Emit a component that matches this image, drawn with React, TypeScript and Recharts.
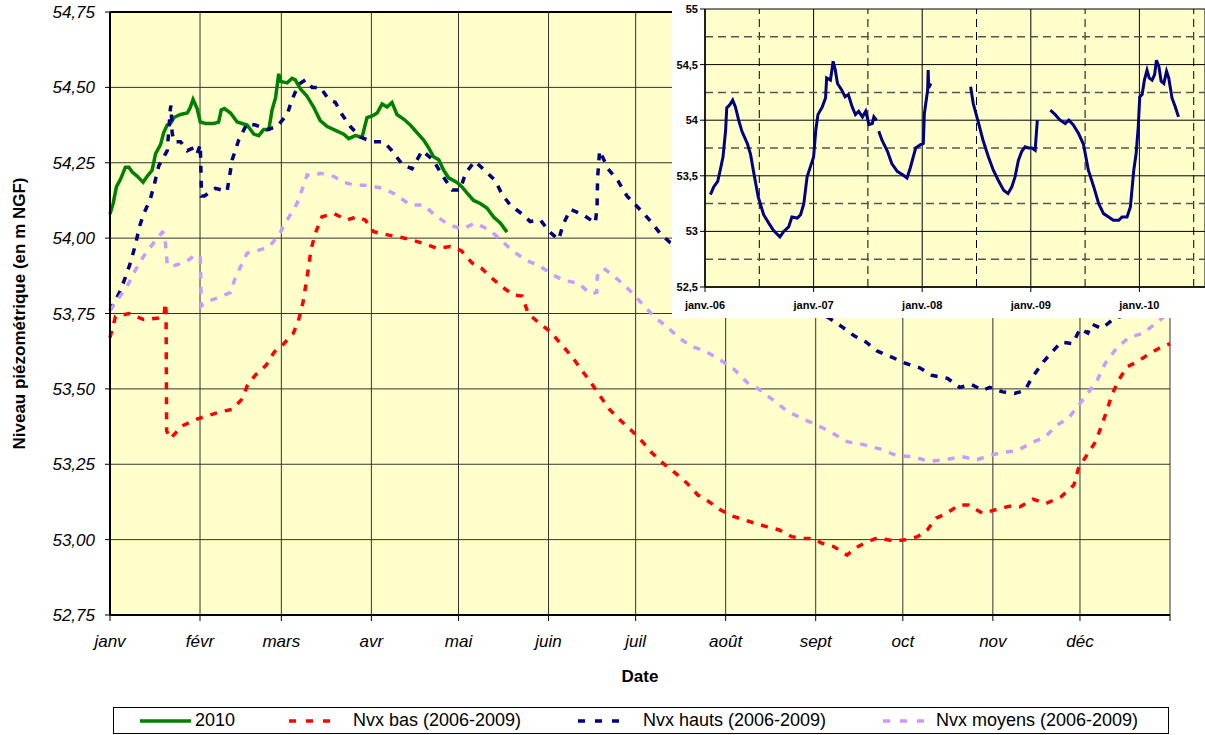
import React from "react";
import {
  LineChart,
  Line,
  XAxis,
  YAxis,
  CartesianGrid,
  Legend,
  ReferenceLine,
} from "recharts";

const FONT = '"Liberation Sans", Arial, sans-serif';

// axe principal : jour de l'année
const monthStarts = [0, 31, 59, 90, 120, 151, 181, 212, 243, 273, 304, 334, 365];
const monthNames = ["janv", "févr", "mars", "avr", "mai", "juin", "juil", "août", "sept", "oct", "nov", "déc", ""];
const levelTicks = [52.75, 53, 53.25, 53.5, 53.75, 54, 54.25, 54.5, 54.75];

// [jour, niveau]
const niveaux2010 = [
  [0, 54.08], [1.1, 54.115], [2.2, 54.17], [3.6, 54.195], [5.3, 54.235], [6.5, 54.235],
  [7.6, 54.22], [9.4, 54.205], [11.4, 54.185], [12.8, 54.205], [14.5, 54.225], [15.7, 54.28],
  [17.4, 54.31], [18.5, 54.35], [19.7, 54.375], [20.8, 54.38], [22, 54.4], [24.3, 54.41],
  [26.6, 54.415], [27.5, 54.43], [28.6, 54.46], [30, 54.43], [31.1, 54.385], [32.9, 54.38],
  [35.7, 54.38], [37.4, 54.385], [38.3, 54.425], [39.4, 54.43], [41.5, 54.415], [43.8, 54.385],
  [47.2, 54.375], [49.5, 54.345], [51.2, 54.34], [52.9, 54.36], [54.7, 54.36], [55.8, 54.425],
  [57, 54.465], [58.1, 54.545], [58.7, 54.52], [61, 54.515], [62.7, 54.53], [63.8, 54.525],
  [65.6, 54.495], [67.9, 54.47], [70.1, 54.435], [72.4, 54.39], [74.8, 54.37], [78.2, 54.355],
  [80.5, 54.345], [82.2, 54.33], [84.5, 54.34], [86.8, 54.335], [88.5, 54.4], [90.2, 54.405],
  [92, 54.415], [93.7, 54.445], [95.4, 54.435], [97.1, 54.45], [98.8, 54.41], [101.1, 54.395],
  [103.4, 54.375], [105.7, 54.35], [108, 54.325], [109.7, 54.3], [111.4, 54.27], [113.2, 54.26],
  [114.9, 54.225], [116.6, 54.2], [119.5, 54.185], [121.2, 54.17], [122.9, 54.15], [125.2, 54.125],
  [127.5, 54.115], [129.8, 54.1], [132.1, 54.07], [134.4, 54.05], [136.7, 54.02],
];

const nvxBas = [
  [0, 53.67], [1.9, 53.74], [6.5, 53.75], [11.6, 53.73], [16.8, 53.735], [18.6, 53.74],
  [19.0, 53.785], [19.3, 53.76], [19.5, 53.36], [20.8, 53.335], [24.8, 53.377], [30, 53.4],
  [34.3, 53.413], [38, 53.424], [42, 53.432], [45.2, 53.463], [47.4, 53.513], [50.1, 53.546],
  [53.8, 53.579], [56.6, 53.623], [59.8, 53.649], [63.1, 53.684], [64.8, 53.723], [66.4, 53.784],
  [67.9, 53.872], [69.2, 53.961], [70.7, 54.016], [73, 54.071], [77, 54.082], [81.6, 54.06],
  [85.1, 54.071], [87.9, 54.06], [90.8, 54.021], [96, 54.01], [99.4, 54.004], [103.2, 53.996],
  [107.8, 53.983], [112.6, 53.966], [117.2, 53.972], [121, 53.958], [124.7, 53.917], [127.9, 53.9],
  [131.3, 53.869], [135.2, 53.837], [139, 53.811], [141.9, 53.808], [144, 53.75], [147.9, 53.717],
  [151.4, 53.692], [155.1, 53.651], [158.8, 53.61], [162, 53.568], [165.5, 53.522], [168.8, 53.476],
  [172, 53.432], [175.9, 53.394], [179.9, 53.359], [183.5, 53.323], [186.4, 53.29], [190.2, 53.255],
  [194.5, 53.222], [198.5, 53.189], [202.4, 53.148], [205.9, 53.128], [210.3, 53.098], [214.9, 53.076],
  [222.2, 53.054], [226.1, 53.043], [230.5, 53.032], [234.7, 53.01], [238.6, 53.004], [241.9, 53.004],
  [245.2, 52.988], [249.2, 52.977], [253.8, 52.949], [257.1, 52.974], [260.1, 52.99], [264.7, 53.007],
  [266.9, 53.001], [270.5, 52.995], [274.9, 53.001], [278.1, 53.01], [281.4, 53.032], [284.5, 53.071],
  [288, 53.087], [292.4, 53.115], [295.5, 53.115], [300.5, 53.087], [305.2, 53.1], [309.8, 53.111],
  [313.4, 53.109], [317.9, 53.134], [322.3, 53.12], [327.5, 53.142], [331.9, 53.181], [333.5, 53.237],
  [336.4, 53.281], [339.4, 53.325], [341.1, 53.369], [343.1, 53.424], [345, 53.48], [347.3, 53.529],
  [350.3, 53.574], [353.2, 53.587], [357.2, 53.612], [361.1, 53.634], [365, 53.65],
];

const nvxHauts = [
  [0, 53.76], [3.3, 53.82], [5.3, 53.87], [7.1, 53.92], [8.8, 53.98], [10.2, 54.04],
  [11.6, 54.08], [13.9, 54.13], [15.3, 54.18], [16.8, 54.24], [19.7, 54.29], [20.8, 54.43],
  [21.0, 54.44], [21.4, 54.35], [22, 54.32], [24.3, 54.32], [26.6, 54.29], [28.8, 54.3],
  [30, 54.28], [31.1, 54.31], [31.5, 54.14], [32.5, 54.14], [36.3, 54.165], [40.3, 54.155],
  [42.1, 54.26], [44.3, 54.325], [47.2, 54.38], [50.1, 54.375], [54.1, 54.36], [57.5, 54.37],
  [61, 54.41], [62.7, 54.46], [65, 54.51], [67.3, 54.525], [69.6, 54.5], [72.4, 54.5],
  [75.3, 54.46], [77.6, 54.45], [79.9, 54.41], [82.8, 54.37], [86.2, 54.335], [90.2, 54.32],
  [94.2, 54.32], [97.1, 54.29], [100.6, 54.245], [104, 54.23], [107.5, 54.29], [111.2, 54.26],
  [114.3, 54.21], [117.8, 54.16], [120.6, 54.16], [122.4, 54.215], [125.6, 54.255], [129.6, 54.22],
  [132.7, 54.19], [135, 54.145], [137.8, 54.11], [141.9, 54.08], [144.7, 54.055], [148.2, 54.06],
  [151.4, 54.02], [154.5, 53.995], [156, 54.045], [158.5, 54.095], [162.5, 54.08], [167.1, 54.05],
  [167.7, 54.1], [167.9, 54.2], [168.6, 54.29], [171.5, 54.23], [174.9, 54.19], [178, 54.14],
  [182, 54.1], [185.8, 54.06], [189.5, 54.015], [192.9, 53.985], [200, 53.95], [210, 53.9],
  [220, 53.85], [230, 53.81], [240, 53.77], [247.6, 53.735], [252.2, 53.705], [256.4, 53.675],
  [260.4, 53.655], [264.3, 53.625], [269.2, 53.605], [273.9, 53.585], [278.8, 53.57], [283, 53.545],
  [288.4, 53.535], [292.6, 53.505], [296.6, 53.515], [300.5, 53.495], [302.9, 53.505], [307.4, 53.49],
  [311.5, 53.485], [315, 53.495], [317.7, 53.54], [321.4, 53.59], [324.2, 53.62], [327.5, 53.655],
  [331.5, 53.65], [334.1, 53.7], [336.7, 53.685], [338.1, 53.715], [341.4, 53.7], [346, 53.735],
  [352, 53.75], [358, 53.77], [365, 53.78],
];

const nvxMoyens = [
  [0, 53.76], [2.5, 53.795], [5.9, 53.84], [8.8, 53.895], [11.6, 53.94], [15.1, 53.985],
  [18, 54.02], [18.8, 54.015], [19.7, 53.915], [20.8, 53.905], [22.5, 53.91], [26, 53.92],
  [29.4, 53.945], [31.1, 53.935], [31.4, 53.775], [33.5, 53.79], [38, 53.805], [41.5, 53.82],
  [43.2, 53.87], [47.2, 53.95], [51.2, 53.96], [54.7, 53.97], [58.1, 54.01], [61, 54.06],
  [64.4, 54.115], [66.1, 54.16], [67.9, 54.21], [69.6, 54.205], [72.4, 54.215], [77, 54.205],
  [80.5, 54.185], [84.5, 54.175], [88.5, 54.175], [94.2, 54.165], [98.3, 54.145], [103.4, 54.11],
  [108, 54.11], [112, 54.075], [116.6, 54.045], [121.2, 54.03], [125.8, 54.05], [131, 54.025],
  [135, 53.99], [139, 53.955], [143.6, 53.925], [147.6, 53.91], [152.2, 53.88], [156.2, 53.86],
  [161.4, 53.85], [165.4, 53.815], [167.6, 53.82], [167.8, 53.875], [170, 53.9], [174.6, 53.865],
  [178.6, 53.83], [183, 53.785], [187.3, 53.74], [191.9, 53.705], [195.8, 53.67], [200.4, 53.64],
  [205, 53.625], [210.3, 53.595], [214.9, 53.565], [219.5, 53.52], [224.1, 53.495], [228.7, 53.46],
  [233.4, 53.425], [238.6, 53.4], [243.5, 53.38], [248.5, 53.355], [253.8, 53.325], [259.4, 53.315],
  [265.4, 53.3], [270.5, 53.28], [276.2, 53.275], [282.1, 53.26], [287.8, 53.265], [293.3, 53.275],
  [298.6, 53.265], [303.2, 53.28], [307.8, 53.29], [312.4, 53.295], [317, 53.32], [322, 53.34],
  [326, 53.38], [329.8, 53.4], [333.5, 53.445], [336.7, 53.485], [340, 53.53], [342.7, 53.585],
  [346.6, 53.635], [350.8, 53.67], [355.8, 53.685], [361.1, 53.725], [365, 53.755],
];

// encart : chronique 2006-2010, [année décimale, niveau] (null = lacune)
const insetYears = [2006, 2007, 2008, 2009, 2010];
const insetYearLabels = ["janv.-06", "janv.-07", "janv.-08", "janv.-09", "janv.-10"];
const insetMidYears = [2006.5, 2007.5, 2008.5, 2009.5, 2010.5];
const insetLevelTicks = [52.5, 53, 53.5, 54, 54.5, 55];
const insetQuarterLevels = [52.75, 53.25, 53.75, 54.25, 54.75];

const chronique = [
  [2006.05, 53.33], [2006.08, 53.4], [2006.117, 53.45], [2006.14, 53.55], [2006.166, 53.67],
  [2006.19, 53.91], [2006.2, 54.11], [2006.23, 54.14], [2006.255, 54.18], [2006.28, 54.12],
  [2006.31, 54.0], [2006.34, 53.9], [2006.39, 53.79], [2006.42, 53.69], [2006.45, 53.52],
  [2006.49, 53.31], [2006.54, 53.15], [2006.59, 53.07], [2006.63, 53.01], [2006.69, 52.95],
  [2006.725, 53.0], [2006.77, 53.04], [2006.8, 53.13], [2006.85, 53.12], [2006.88, 53.15],
  [2006.91, 53.25], [2006.94, 53.49], [2006.97, 53.58], [2007.0, 53.67], [2007.02, 53.91],
  [2007.04, 54.05], [2007.08, 54.12], [2007.11, 54.2], [2007.12, 54.38], [2007.155, 54.36],
  [2007.18, 54.53], [2007.2, 54.45], [2007.22, 54.33], [2007.26, 54.27], [2007.29, 54.21],
  [2007.32, 54.23], [2007.355, 54.12], [2007.385, 54.05], [2007.415, 54.08], [2007.45, 54.03],
  [2007.48, 54.08], [2007.51, 53.96], [2007.54, 53.97], [2007.555, 54.03], [2007.58, 54.0],
  [2007.59, null],
  [2007.6, 53.9], [2007.63, 53.82], [2007.68, 53.72], [2007.72, 53.61], [2007.77, 53.54],
  [2007.82, 53.51], [2007.86, 53.48], [2007.89, 53.57], [2007.94, 53.75], [2007.985, 53.78],
  [2008.01, 53.79], [2008.02, 54.06], [2008.05, 54.27], [2008.055, 54.45], [2008.06, 54.29],
  [2008.08, 54.33],
  [2008.2, null],
  [2008.446, 54.3], [2008.47, 54.15], [2008.52, 53.97], [2008.56, 53.82], [2008.61, 53.67],
  [2008.655, 53.55], [2008.7, 53.46], [2008.75, 53.37], [2008.79, 53.34], [2008.825, 53.4],
  [2008.855, 53.49], [2008.886, 53.64], [2008.917, 53.72], [2008.948, 53.76], [2008.978, 53.75],
  [2009.01, 53.75], [2009.04, 53.73], [2009.06, 54.0],
  [2009.1, null],
  [2009.18, 54.09], [2009.225, 54.05], [2009.27, 54.0], [2009.317, 53.97], [2009.35, 54.0],
  [2009.39, 53.96], [2009.44, 53.88], [2009.486, 53.78], [2009.53, 53.55], [2009.58, 53.4],
  [2009.625, 53.25], [2009.67, 53.16], [2009.717, 53.13], [2009.76, 53.1], [2009.81, 53.1],
  [2009.84, 53.13], [2009.886, 53.13], [2009.917, 53.22], [2009.948, 53.55], [2009.97, 53.7],
  [2009.99, 53.95], [2010.003, 54.21], [2010.025, 54.23], [2010.046, 54.36], [2010.07, 54.45],
  [2010.09, 54.38], [2010.117, 54.36], [2010.14, 54.41], [2010.157, 54.54], [2010.18, 54.48],
  [2010.2, 54.35], [2010.225, 54.33], [2010.25, 54.44], [2010.27, 54.38], [2010.3, 54.2],
  [2010.33, 54.12], [2010.36, 54.03],
];

const toRows = (pts) => pts.map(([d, v]) => ({ d, v }));

const series = [
  { name: "2010", color: "#008000", dash: undefined, data: niveaux2010 },
  { name: "Nvx bas (2006-2009)", color: "#FF0000", dash: "7 8", data: nvxBas },
  { name: "Nvx hauts (2006-2009)", color: "#000080", dash: "7 8", data: nvxHauts },
  { name: "Nvx moyens (2006-2009)", color: "#CC99FF", dash: "7 8", data: nvxMoyens },
];

// position horizontale des éléments de légende dans le cadre
const legendSlots = [
  { symbol: 26, text: 81 },
  { symbol: 175, text: 239 },
  { symbol: 464, text: 529 },
  { symbol: 769, text: 822 },
];

const MonthTick = ({ x, y, payload }) => (
  <text
    x={x}
    y={y}
    dy="0.71em"
    textAnchor="middle"
    fill="#000"
    fontSize={17}
    fontStyle="italic"
    fontFamily={FONT}
  >
    {monthNames[monthStarts.indexOf(payload.value)]}
  </text>
);

const LevelTick = ({ x, y, payload }) => (
  <text
    x={x}
    y={y}
    dy="0.355em"
    textAnchor="end"
    fill="#000"
    fontSize={17}
    fontStyle="italic"
    fontFamily={FONT}
  >
    {payload.value.toFixed(2).replace(".", ",")}
  </text>
);

const MainLegend = () => (
  <div
    style={{
      position: "relative",
      width: 1056,
      height: 27,
      border: "1px solid #000",
      boxSizing: "border-box",
      background: "#fff",
      fontFamily: FONT,
      fontSize: 18,
      color: "#000",
    }}
  >
    {series.map((s, i) => (
      <React.Fragment key={s.name}>
        <svg
          width={52}
          height={8}
          style={{ position: "absolute", left: legendSlots[i].symbol, top: 8.5 }}
        >
          {s.dash ? (
            <line x1={0} y1={4} x2={42} y2={4} stroke={s.color} strokeWidth={3.5} strokeDasharray="7 10" />
          ) : (
            <line x1={0} y1={4} x2={51} y2={4} stroke={s.color} strokeWidth={3.5} />
          )}
        </svg>
        <span
          style={{ position: "absolute", left: legendSlots[i].text, top: 2, lineHeight: "21px", whiteSpace: "nowrap" }}
        >
          {s.name}
        </span>
      </React.Fragment>
    ))}
  </div>
);

const InsetChart = () => (
  <div
    style={{
      position: "absolute",
      left: 672,
      top: 0,
      width: 533,
      height: 318,
      background: "#fff",
    }}
  >
    <LineChart width={533} height={318} margin={{ top: 9, right: 0, bottom: 0, left: 0 }}>
      <CartesianGrid fill="#FFFFCC" stroke="#000" strokeWidth={1} />
      <XAxis
        type="number"
        dataKey="d"
        domain={[2006, 2010.604]}
        ticks={insetYears}
        interval={0}
        height={31}
        tickSize={5}
        tickMargin={9}
        axisLine={{ stroke: "#000", strokeWidth: 1.5 }}
        tickLine={{ stroke: "#000" }}
        tick={{ fill: "#000", fontSize: 11, fontWeight: "bold", fontFamily: FONT }}
        tickFormatter={(v) => insetYearLabels[insetYears.indexOf(v)]}
        allowDataOverflow
      />
      <YAxis
        type="number"
        domain={[52.5, 55]}
        ticks={insetLevelTicks}
        interval={0}
        width={33}
        tickSize={5}
        tickMargin={2}
        axisLine={{ stroke: "#000", strokeWidth: 1.5 }}
        tickLine={{ stroke: "#000" }}
        tick={{ fill: "#000", fontSize: 11, fontWeight: "bold", fontFamily: FONT }}
        tickFormatter={(v) => String(v).replace(".", ",")}
        allowDataOverflow
      />
      {insetMidYears.map((x) => (
        <ReferenceLine key={"x" + x} x={x} stroke="#000" strokeWidth={1} strokeDasharray="8 5" />
      ))}
      {insetQuarterLevels.map((y) => (
        <ReferenceLine key={"y" + y} y={y} stroke="#555" strokeWidth={1.5} strokeDasharray="8 5" />
      ))}
      <Line
        data={toRows(chronique)}
        dataKey="v"
        type="linear"
        stroke="#000080"
        strokeWidth={3}
        dot={false}
        connectNulls={false}
        isAnimationActive={false}
      />
    </LineChart>
  </div>
);

export default function App() {
  return (
    <div
      style={{
        position: "absolute",
        left: 0,
        top: 0,
        width: 1205,
        height: 735,
        background: "#fff",
        fontFamily: FONT,
      }}
    >
      <LineChart width={1205} height={735} margin={{ top: 12, right: 35, bottom: 0, left: 0 }}>
        <CartesianGrid fill="#FFFFCC" stroke="#333" strokeWidth={1} />
        <XAxis
          type="number"
          dataKey="d"
          domain={[0, 365]}
          ticks={monthStarts}
          interval={0}
          height={120}
          tickSize={6}
          tickMargin={14}
          axisLine={{ stroke: "#000", strokeWidth: 2 }}
          tickLine={{ stroke: "#000" }}
          tick={MonthTick}
          label={{
            value: "Date",
            position: "insideTop",
            offset: 55,
            fill: "#000",
            fontSize: 17,
            fontWeight: "bold",
            fontFamily: FONT,
          }}
        />
        <YAxis
          type="number"
          domain={[52.75, 54.75]}
          ticks={levelTicks}
          interval={0}
          width={110}
          tickSize={5}
          tickMargin={10}
          axisLine={{ stroke: "#000", strokeWidth: 2 }}
          tickLine={{ stroke: "#000" }}
          tick={LevelTick}
          label={{
            value: "Niveau piézométrique (en m NGF)",
            angle: -90,
            position: "insideLeft",
            offset: 19,
            textAnchor: "middle",
            fill: "#000",
            fontSize: 17,
            fontWeight: "bold",
            fontFamily: FONT,
          }}
        />
        <ReferenceLine y={54.75} stroke="#000" strokeWidth={2} />
        {series.map((s) => (
          <Line
            key={s.name}
            data={toRows(s.data)}
            dataKey="v"
            name={s.name}
            type="linear"
            stroke={s.color}
            strokeWidth={3.5}
            strokeDasharray={s.dash}
            dot={false}
            isAnimationActive={false}
          />
        ))}
        <Legend
          verticalAlign="middle"
          align="center"
          layout="horizontal"
          wrapperStyle={{ left: 113, top: 707, width: 1056, height: 27 }}
          content={() => <MainLegend />}
        />
      </LineChart>
      <InsetChart />
    </div>
  );
}
